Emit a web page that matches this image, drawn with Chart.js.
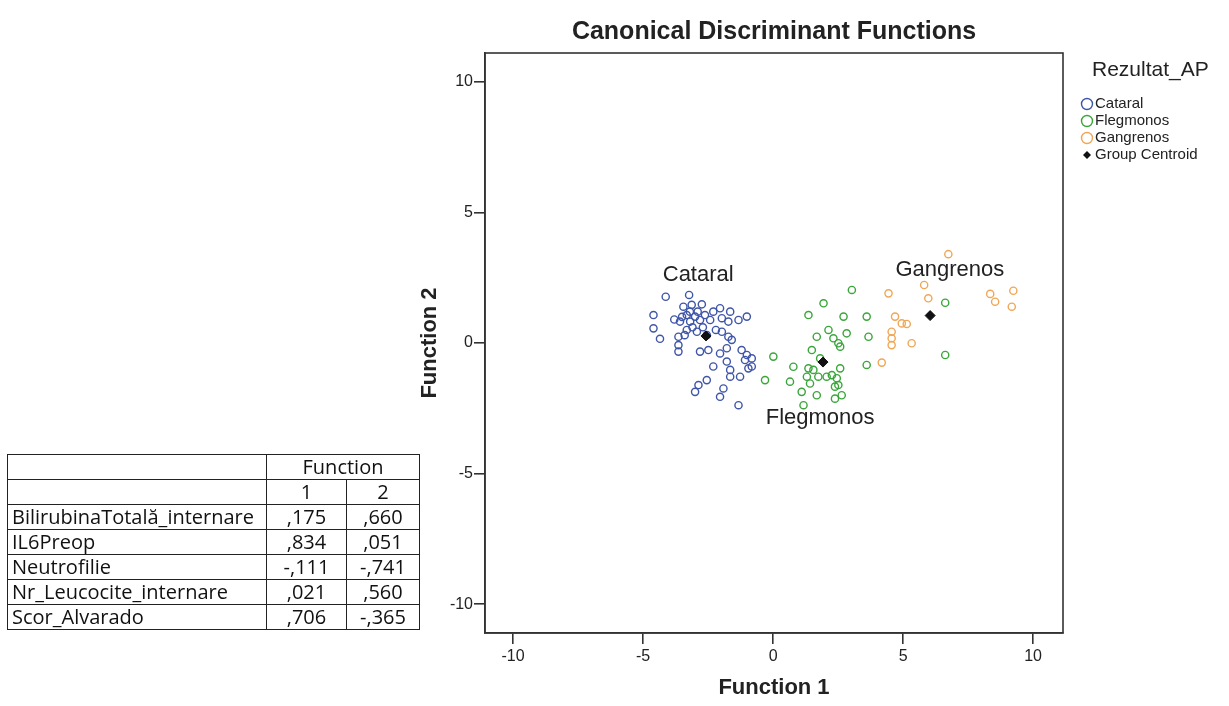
<!DOCTYPE html>
<html lang="ro">
<head>
<meta charset="UTF-8">
<title>Canonical Discriminant Functions</title>
<script src="https://cdn.jsdelivr.net/npm/chart.js"></script>
<style>
  html, body { margin: 0; padding: 0; background: #fff; }
  #wrap { position: relative; width: 1229px; height: 706px; }
  #chart { position: absolute; left: 0; top: 0; }
  table.coef {
    position: absolute; left: 7px; top: 454px;
    border-collapse: collapse; table-layout: fixed;
    font-family: "Open Sans", "Noto Sans", sans-serif;
    font-size: 20px; color: #111;
  }
  table.coef td { border: 1px solid #222; padding: 0 4px; height: 24px; line-height: 24px; white-space: nowrap; overflow: hidden; }
  table.coef td.num { text-align: center; padding: 0; }
  table.coef col.lab { width: 259px; }
  table.coef col.c1 { width: 80px; }
  table.coef col.c2 { width: 73px; }
</style>
</head>
<body>
<div id="wrap">
  <canvas id="chart" width="1229" height="706"></canvas>
  <table class="coef" id="coefTable"></table>
</div>
<script>
// scatter values: [function 1, function 2]
const cataral = [
  [-4.13, 1.77], [-3.23, 1.84], [-2.74, 1.48], [-4.60, 1.07], [-4.60, 0.56], [-4.35, 0.16],
  [-3.45, 1.39], [-3.13, 1.46], [-3.58, 0.82], [-3.32, 1.07], [-3.19, 0.82], [-3.00, 1.01],
  [-2.81, 0.88], [-2.62, 1.07], [-2.42, 0.88], [-2.30, 1.20], [-2.04, 1.33], [-1.65, 1.20],
  [-1.97, 0.95], [-1.72, 0.82], [-1.33, 0.88], [-1.01, 1.01], [-3.64, 0.24], [-3.32, 0.50],
  [-2.93, 0.43], [-2.55, 0.30], [-3.64, -0.08], [-3.64, -0.33], [-2.81, -0.33], [-2.49, -0.27],
  [-2.04, -0.40], [-1.78, -0.20], [-1.72, 0.24], [-1.59, 0.12], [-1.21, -0.27], [-1.01, -0.46],
  [-0.82, -0.59], [-1.08, -0.65], [-1.78, -0.71], [-1.65, -1.03], [-0.95, -0.97], [-0.82, -0.90],
  [-2.30, -0.90], [-1.65, -1.29], [-1.27, -1.29], [-2.55, -1.42], [-2.87, -1.61], [-3.00, -1.87],
  [-1.91, -1.74], [-2.04, -2.06], [-1.33, -2.38], [-1.97, 0.43], [-3.50, 1.00], [-3.10, 0.60],
  [-2.90, 1.20], [-3.40, 0.30], [-2.70, 0.60], [-3.80, 0.90], [-2.20, 0.50], [-3.20, 1.20]
];
const flegmonos = [
  [3.03, 2.03], [1.94, 1.52], [1.36, 1.07], [2.71, 1.01], [3.60, 1.01], [2.13, 0.50],
  [2.83, 0.37], [1.68, 0.24], [2.32, 0.18], [2.51, -0.01], [3.67, 0.24], [2.58, -0.14],
  [1.49, -0.27], [1.81, -0.59], [0.01, -0.52], [0.78, -0.91], [3.60, -0.84], [1.36, -0.97],
  [1.55, -1.03], [2.58, -0.97], [2.26, -1.23], [1.30, -1.29], [1.74, -1.29], [2.45, -1.35],
  [-0.31, -1.42], [0.65, -1.48], [1.42, -1.55], [2.06, -1.29], [2.51, -1.61], [1.10, -1.87],
  [1.68, -2.00], [2.38, -1.67], [2.64, -2.00], [2.38, -2.13], [1.17, -2.38], [6.62, 1.54],
  [6.62, -0.46]
];
const gangrenos = [
  [6.74, 3.40], [4.44, 1.90], [5.81, 2.22], [5.97, 1.71], [8.35, 1.88], [8.54, 1.58],
  [9.24, 2.00], [9.18, 1.39], [4.69, 1.01], [4.95, 0.75], [5.14, 0.73], [4.56, 0.43],
  [4.56, 0.18], [4.56, -0.08], [5.33, -0.01], [4.18, -0.75]
];
const centroids = [[-2.58, 0.27], [1.92, -0.73], [6.04, 1.05]];

const groupNames = ['Cataral', 'Flegmonos', 'Gangrenos'];
const groupLabelPos = [[-2.88, 2.62], [1.81, -2.85], [6.80, 2.78]];
const xTicks = [-10, -5, 0, 5, 10];
const yTicks = [-10, -5, 0, 5, 10];

// structure matrix table
const tableVars = ['BilirubinaTotală_internare', 'IL6Preop', 'Neutrofilie', 'Nr_Leucocite_internare', 'Scor_Alvarado'];
const func1 = [',175', ',834', '-,111', ',021', ',706'];
const func2 = [',660', ',051', '-,741', ',560', '-,365'];

const colors = ['#3f55a8', '#3aa63a', '#f0a755'];

// build the table
let html = '<colgroup><col class="lab"><col class="c1"><col class="c2"></colgroup>' +
  '<tr><td></td><td class="num" colspan="2">Function</td></tr>' +
  '<tr><td></td><td class="num">1</td><td class="num">2</td></tr>';
tableVars.forEach((v, i) => {
  html += '<tr><td>' + v + '</td><td class="num">' + func1[i] +
    '</td><td class="num">' + func2[i] + '</td></tr>';
});
document.getElementById('coefTable').innerHTML = html;

const toXY = arr => arr.map(p => ({ x: p[0], y: p[1] }));
const FONT = '"Liberation Sans", Arial, sans-serif';

// titles, frame, group labels and legend
const decorPlugin = {
  id: 'decor',
  afterDraw(chart) {
    const { ctx, chartArea: a, scales } = chart;
    ctx.save();
    ctx.strokeStyle = '#333';
    ctx.lineWidth = 1.6;
    ctx.strokeRect(a.left, a.top, a.right - a.left, a.bottom - a.top);

    ctx.fillStyle = '#222';
    ctx.textAlign = 'center';
    ctx.textBaseline = 'middle';
    const cx = (a.left + a.right) / 2;
    ctx.font = 'bold 25px ' + FONT;
    ctx.fillText('Canonical Discriminant Functions', cx, 32);
    ctx.font = 'bold 22px ' + FONT;
    ctx.fillText('Function 1', cx, 688);
    ctx.save();
    ctx.translate(430, (a.top + a.bottom) / 2);
    ctx.rotate(-Math.PI / 2);
    ctx.fillText('Function 2', 0, 0);
    ctx.restore();

    ctx.font = '22px ' + FONT;
    groupNames.forEach((n, i) => {
      ctx.fillText(n, scales.x.getPixelForValue(groupLabelPos[i][0]), scales.y.getPixelForValue(groupLabelPos[i][1]));
    });

    // legend
    ctx.textAlign = 'left';
    ctx.font = '21px ' + FONT;
    ctx.fillText('Rezultat_AP', 1092, 70);
    ctx.font = '15px ' + FONT;
    groupNames.forEach((n, i) => {
      const y = 104 + i * 17;
      ctx.beginPath();
      ctx.arc(1087, y, 5.5, 0, Math.PI * 2);
      ctx.strokeStyle = colors[i];
      ctx.lineWidth = 1.4;
      ctx.stroke();
      ctx.fillStyle = '#222';
      ctx.fillText(n, 1095, y);
    });
    const dy = 104 + 3 * 17;
    ctx.beginPath();
    ctx.moveTo(1087, dy - 4); ctx.lineTo(1091, dy); ctx.lineTo(1087, dy + 4); ctx.lineTo(1083, dy);
    ctx.closePath();
    ctx.fillStyle = '#111';
    ctx.fill();
    ctx.fillStyle = '#222';
    ctx.fillText('Group Centroid', 1095, dy);
    ctx.restore();
  }
};

new Chart(document.getElementById('chart'), {
  type: 'scatter',
  data: {
    datasets: [
      { label: 'Group Centroid', data: toXY(centroids), pointStyle: 'rectRot', pointRadius: 5,
        backgroundColor: '#111', borderColor: '#111', borderWidth: 1 },
      { label: 'Cataral', data: toXY(cataral), pointRadius: 3.6, borderWidth: 1.4,
        borderColor: colors[0], backgroundColor: 'rgba(0,0,0,0)' },
      { label: 'Flegmonos', data: toXY(flegmonos), pointRadius: 3.6, borderWidth: 1.4,
        borderColor: colors[1], backgroundColor: 'rgba(0,0,0,0)' },
      { label: 'Gangrenos', data: toXY(gangrenos), pointRadius: 3.6, borderWidth: 1.4,
        borderColor: colors[2], backgroundColor: 'rgba(0,0,0,0)' }
    ]
  },
  options: {
    responsive: false,
    animation: false,
    layout: { padding: { left: 0, top: 53, right: 166, bottom: 0 } },
    plugins: { legend: { display: false }, tooltip: { enabled: false } },
    scales: {
      x: {
        type: 'linear', min: -11.08, max: 11.15,
        afterFit: s => { s.height = 73; },
        afterBuildTicks: s => { s.ticks = xTicks.map(v => ({ value: v })); },
        grid: { drawOnChartArea: false, drawTicks: true, tickLength: 11, color: '#333', lineWidth: 1.6 },
        border: { display: true, color: '#333', width: 1.6 },
        ticks: { color: '#222', padding: 3, font: { family: FONT, size: 16 } }
      },
      y: {
        type: 'linear', min: -11.1, max: 11.1,
        afterFit: s => { s.width = 485; },
        afterBuildTicks: s => { s.ticks = yTicks.map(v => ({ value: v })); },
        grid: { drawOnChartArea: false, drawTicks: true, tickLength: 11, color: '#333', lineWidth: 1.6 },
        border: { display: true, color: '#333', width: 1.6 },
        ticks: { color: '#222', padding: 1, font: { family: FONT, size: 16 } }
      }
    }
  },
  plugins: [decorPlugin]
});
</script>
</body>
</html>
